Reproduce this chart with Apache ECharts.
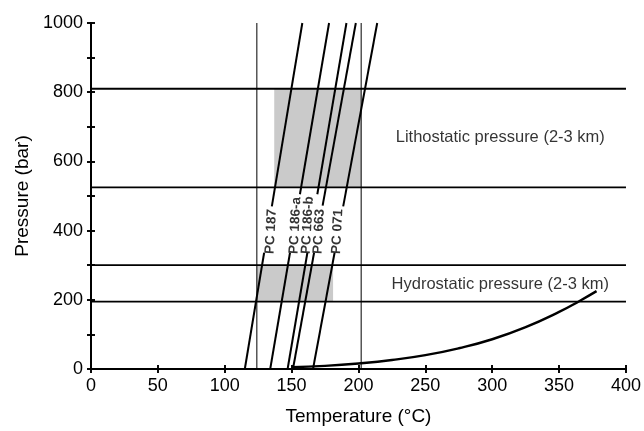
<!DOCTYPE html>
<html>
<head>
<meta charset="utf-8">
<script src="https://cdn.jsdelivr.net/npm/echarts@6/dist/echarts.min.js"></script>
<style>
html, body { margin: 0; padding: 0; background: #fff; }
#chart { width: 644px; height: 431px; }
</style>
</head>
<body>
<div id="chart"></div>
<script>
// isochores (straight lines, T at 0 bar and at 1000 bar)
const isoNames = ['PC 187', 'PC 186-a', 'PC 186-b', 'PC 663', 'PC 071'];
const isoT0 = [115, 134, 147, 151, 166];
const isoT1000 = [158, 178, 191, 198, 214];
// each line is interrupted by its label between these pressures
const gapLowP = [336, 336, 336, 336, 336];
const gapHighP = [470, 505, 505, 472, 470];
// small sideways nudge of the labels (px) so they don't collide
const labelNudge = [6, 4, -1, 4, 2];

// pressure bands (bar)
const lithoBand = [525, 810];
const hydroBand = [195, 300];
// temperature limits (°C)
const tempLimits = [124, 202];
const lithoShadeT = [137, 202];
const hydroShadeT = [124, 181];

// liquid-vapour curve
const boilT = [150, 175, 200, 225, 250, 275, 300, 325, 350, 365, 378];
const boilP = [5, 9, 16, 26, 40, 60, 86, 121, 165, 196, 225];

const xTicks = [0, 50, 100, 150, 200, 250, 300, 350, 400];
const yTicks = [0, 200, 400, 600, 800, 1000];

const font = 'Liberation Sans, Arial, Helvetica, sans-serif';
const chart = echarts.init(document.getElementById('chart'));

function line(data, width) {
    return {
        type: 'line', data: data, symbol: 'none', silent: true,
        lineStyle: { color: '#000', width: width }, z: 3
    };
}
function isoT(i, p) {
    return isoT0[i] + (isoT1000[i] - isoT0[i]) * p / 1000;
}

const series = [];
// shaded boxes
series.push({
    type: 'line', data: [], silent: true,
    markArea: {
        silent: true,
        itemStyle: { color: '#cacaca' },
        data: [
            [{ coord: [lithoShadeT[0], lithoBand[0]] }, { coord: [lithoShadeT[1], lithoBand[1]] }],
            [{ coord: [hydroShadeT[0], hydroBand[0]] }, { coord: [hydroShadeT[1], hydroBand[1]] }]
        ]
    }
});
[lithoBand[0], lithoBand[1], hydroBand[0], hydroBand[1]].forEach(p => {
    series.push(line([[0, p], [400, p]], 1.8));
});
tempLimits.forEach(t => {
    series.push(line([[t, 0], [t, 1000]], 1));
});
isoNames.forEach((n, i) => {
    series.push(line([[isoT0[i], 0], [isoT(i, gapLowP[i]), gapLowP[i]]], 2));
    series.push(line([[isoT(i, gapHighP[i]), gapHighP[i]], [isoT1000[i], 1000]], 2));
});
series.push(Object.assign(line(boilT.map((t, i) => [t, boilP[i]]), 2.4), { smooth: true }));

// isochore labels, in the gaps of the lines
series.push({
    type: 'scatter', symbolSize: 0, silent: true, z: 5,
    data: isoNames.map((n, i) => {
        const p = gapLowP[i] - 4;
        return {
            name: n, value: [isoT(i, p), p],
            label: { position: [labelNudge[i], 0] }
        };
    }),
    label: {
        show: true, align: 'left', verticalAlign: 'middle',
        formatter: '{b}', rotate: 87, color: '#000', fontSize: 13.5,
        fontWeight: 'bold', fontFamily: font
    }
});
// band captions
series.push({
    type: 'scatter', symbolSize: 0, silent: true, z: 5,
    data: [
        { name: 'Lithostatic pressure (2-3 km)', value: [306, 669] },
        { name: 'Hydrostatic pressure (2-3 km)', value: [306, 245] }
    ],
    label: {
        show: true, position: 'inside', formatter: '{b}',
        color: '#000', fontSize: 16.5, fontFamily: font
    }
});

const axisLine = { show: true, lineStyle: { color: '#000', width: 1.8 } };
function xAx(pos, inside, labels) {
    return {
        type: 'value', min: 0, max: 400, interval: 50, position: pos,
        name: labels ? 'Temperature (°C)' : '', nameLocation: 'middle', nameGap: 38,
        nameTextStyle: { color: '#000', fontSize: 19, fontFamily: font },
        axisLine: axisLine,
        axisTick: { show: true, inside: inside, length: 4, lineStyle: { color: '#000', width: 1.6 } },
        axisLabel: { show: labels, color: '#000', fontSize: 18, fontFamily: font, margin: 8,
            formatter: v => xTicks.indexOf(v) >= 0 ? v : '' },
        splitLine: { show: false }
    };
}
function yAx(pos, inside, labels) {
    return {
        type: 'value', min: 0, max: 1000, interval: 100, position: pos,
        name: labels ? 'Pressure (bar)' : '', nameLocation: 'middle', nameGap: 58,
        nameTextStyle: { color: '#000', fontSize: 19, fontFamily: font },
        axisLine: axisLine,
        axisTick: { show: true, inside: inside, length: 4, lineStyle: { color: '#000', width: 1.6 } },
        axisLabel: { show: labels, color: '#000', fontSize: 18, fontFamily: font, margin: 8,
            formatter: v => yTicks.indexOf(v) >= 0 ? v : '' },
        splitLine: { show: false }
    };
}

const option = {
    backgroundColor: '#fff',
    animation: false,
    grid: { left: 91, right: 17, top: 23, bottom: 58 },
    xAxis: [xAx('bottom', false, true), xAx('bottom', true, false), xAx('top', false, false), xAx('top', true, false)],
    yAxis: [yAx('left', false, true), yAx('left', true, false), yAx('right', false, false), yAx('right', true, false)],
    series: series
};
chart.setOption(option);
</script>
</body>
</html>
